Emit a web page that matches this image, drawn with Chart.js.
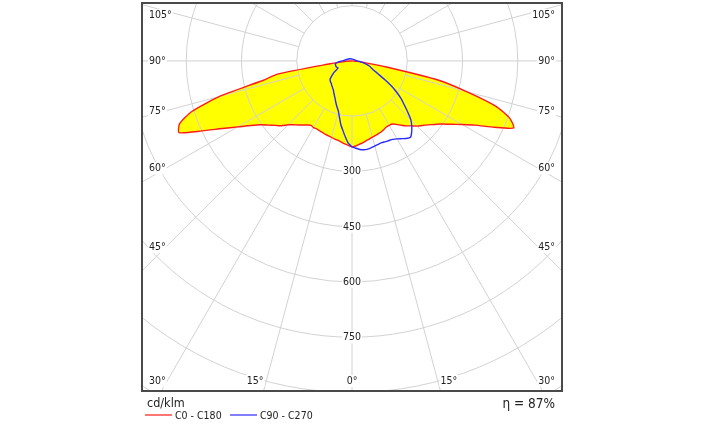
<!DOCTYPE html>
<html>
<head>
<meta charset="utf-8">
<script src="https://cdn.jsdelivr.net/npm/chart.js@4.4.0/dist/chart.umd.min.js"></script>
<style>
  html, body { margin: 0; padding: 0; background: #fff; }
</style>
</head>
<body>
<canvas id="ldc" width="704" height="426"></canvas>
<script>
// gamma angles (0 = straight down), intensities in cd/klm
const gammaAngles = [0, 2.5, 5, 7.5, 10, 12.5, 15, 17.5, 20, 22.5, 25, 27.5, 30, 32.5, 35, 37.5, 40, 42.5, 45,
    47.5, 50, 52.5, 55, 57.5, 60, 62.5, 65, 67.5, 70, 72.5, 75, 77.5, 80, 82.5, 85, 87.5, 90, 105, 135, 180];
const c0Values = [234, 231, 227, 224, 220, 217, 214, 212, 210, 208, 205, 202, 202, 203, 210, 220, 230, 239, 250,
    259, 270, 283, 298, 320, 345, 377, 426, 475, 456, 410, 322, 239, 95, 33, 14, 5, 0, 0, 0, 0];
const c180Values = [234, 229, 226, 222, 219, 217, 215, 213, 212, 210, 209, 208, 209, 207, 212, 219, 227, 235, 245,
    260, 272, 286, 302, 326, 358, 397, 449, 508, 498, 456, 372, 252, 203, 60, 22, 8, 0, 0, 0, 0];
const c90Values = [233, 237, 241, 243, 243, 241, 239, 237, 236, 237, 238, 240, 244, 250, 257, 261, 252, 240, 226,
    205, 185, 168, 148, 127, 105, 85, 72, 62, 56, 51, 45, 38, 32, 26, 22, 18, 14, 9, 6, 5];
const c270Values = [233, 224, 207, 190, 175, 157, 142, 133, 125, 117, 110, 104, 99, 94, 91, 88, 86, 83, 82,
    80, 78, 71, 64, 58, 49, 43, 43, 45, 46, 46, 46, 46, 46, 43, 38, 33, 27, 15, 8, 5];

const circleValues = [150, 300, 450, 600, 750, 900, 1050];
const circleTicks = [300, 450, 600, 750];
const sideAngleTicks = [45, 60, 75, 90, 105];
const bottomAngleTicks = [0, 15, 30];
const seriesNames = ['C0 - C180', 'C90 - C270'];
const unitLabel = 'cd/klm';
const efficiencyLabel = 'η = 87%';

const FONT = "'DejaVu Sans Condensed', 'DejaVu Sans', sans-serif";
const TEXT = '#222';

// left half mirrored, right half; closed loop through gamma = 0
function toCurve(leftVals, rightVals) {
    const rad = Math.PI / 180;
    const pts = [];
    for (let i = 0; i < gammaAngles.length; i++) {
        const g = gammaAngles[i] * rad;
        pts.push({ x: -leftVals[i] * Math.sin(g), y: -leftVals[i] * Math.cos(g) });
    }
    for (let i = gammaAngles.length - 1; i >= 0; i--) {
        const g = gammaAngles[i] * rad;
        pts.push({ x: rightVals[i] * Math.sin(g), y: -rightVals[i] * Math.cos(g) });
    }
    return pts;
}

const redCurve = toCurve(c180Values, c0Values);
const blueCurve = toCurve(c270Values, c90Values);

function labelBox(ctx, text, x, y, align) {
    const w = ctx.measureText(text).width;
    let left = x;
    if (align === 'center') left = x - w / 2;
    if (align === 'right') left = x - w;
    ctx.fillStyle = '#fff';
    ctx.fillRect(left - 1, y - 6, w + 2, 12);
    ctx.fillStyle = TEXT;
    ctx.textAlign = 'left';
    ctx.fillText(text, left, y);
}

const polarGrid = {
    id: 'polarGrid',
    // grid goes above the yellow fill but under the curves
    afterDatasetDraw(chart, args) {
        if (args.index !== 0) return;
        const { ctx, chartArea: a, scales: { x, y } } = chart;
        const cx = x.getPixelForValue(0), cy = y.getPixelForValue(0);
        const k = x.getPixelForValue(1) - cx;
        ctx.save();
        ctx.beginPath();
        ctx.rect(a.left, a.top, a.right - a.left, a.bottom - a.top);
        ctx.clip();
        ctx.strokeStyle = '#d2d2d2';
        ctx.lineWidth = 1;
        circleValues.forEach(v => {
            ctx.beginPath();
            ctx.arc(cx, cy, v * k, 0, Math.PI * 2);
            ctx.stroke();
        });
        const rIn = circleValues[0] * k, rOut = 1300 * k;
        for (let g = 0; g < 360; g += 15) {
            const t = g * Math.PI / 180;
            ctx.beginPath();
            ctx.moveTo(cx + rIn * Math.sin(t), cy + rIn * Math.cos(t));
            ctx.lineTo(cx + rOut * Math.sin(t), cy + rOut * Math.cos(t));
            ctx.stroke();
        }
        ctx.restore();
    },
    afterDraw(chart) {
        const { ctx, chartArea: a, scales: { x, y } } = chart;
        const cx = x.getPixelForValue(0), cy = y.getPixelForValue(0);
        ctx.save();
        ctx.font = '10.5px ' + FONT;
        ctx.textBaseline = 'middle';

        circleTicks.forEach(v => {
            labelBox(ctx, String(v), cx, y.getPixelForValue(-v), 'center');
        });

        // side angle labels: inner edge sits on the ray
        sideAngleTicks.forEach(g => {
            const t = g * Math.PI / 180;
            const txt = g + '°';
            const w = ctx.measureText(txt).width;
            const xl = a.left + 7 + w;
            let yy = cy + (cx - xl) * Math.cos(t) / Math.sin(t);
            yy = Math.max(yy, a.top + 12);
            labelBox(ctx, txt, a.left + 7, yy, 'left');
            labelBox(ctx, txt, a.right - 7, yy, 'right');
        });

        // bottom angle labels
        const yb = a.bottom - 10;
        bottomAngleTicks.forEach(g => {
            const txt = g + '°';
            if (g === 0) {
                labelBox(ctx, txt, cx, yb, 'center');
                return;
            }
            const w = ctx.measureText(txt).width;
            const dx = (a.bottom - cy) * Math.tan(g * Math.PI / 180);
            const xl = Math.max(cx - dx, a.left + 7 + w);
            const xr = Math.min(cx + dx, a.right - 7 - w);
            labelBox(ctx, txt, xl, yb, 'right');
            labelBox(ctx, txt, xr, yb, 'left');
        });

        // frame
        ctx.strokeStyle = '#4a4a4a';
        ctx.lineWidth = 2;
        ctx.strokeRect(a.left, a.top, a.right - a.left, a.bottom - a.top);

        // unit, legend, efficiency
        ctx.fillStyle = TEXT;
        ctx.textAlign = 'left';
        ctx.font = '12.5px ' + FONT;
        ctx.fillText(unitLabel, a.left + 5, a.bottom + 13);
        ctx.textAlign = 'right';
        ctx.font = '13.5px ' + FONT;
        ctx.fillText(efficiencyLabel, a.right - 7, a.bottom + 13);

        ctx.font = '10.5px ' + FONT;
        ctx.textAlign = 'left';
        const ly = a.bottom + 24;
        const items = [
            { name: seriesNames[0], color: chart.data.datasets[1].borderColor, x0: a.left + 3 },
            { name: seriesNames[1], color: chart.data.datasets[2].borderColor, x0: a.left + 88 }
        ];
        items.forEach(it => {
            ctx.strokeStyle = it.color;
            ctx.lineWidth = 1.2;
            ctx.beginPath();
            ctx.moveTo(it.x0, ly);
            ctx.lineTo(it.x0 + 27, ly);
            ctx.stroke();
            ctx.fillStyle = TEXT;
            ctx.fillText(it.name, it.x0 + 30, ly + 1);
        });
        ctx.restore();
    }
};

new Chart(document.getElementById('ldc'), {
    type: 'line',
    data: {
        datasets: [
            {
                label: 'fill',
                data: redCurve,
                backgroundColor: '#ffff00',
                borderColor: 'rgba(0,0,0,0)',
                borderWidth: 0,
                fill: 'shape',
                order: 3
            },
            {
                label: seriesNames[0],
                data: redCurve,
                borderColor: '#ff1a1a',
                borderWidth: 1.4,
                fill: false,
                order: 2
            },
            {
                label: seriesNames[1],
                data: blueCurve,
                borderColor: '#2a2aff',
                borderWidth: 1.4,
                fill: false,
                order: 1
            }
        ]
    },
    options: {
        responsive: false,
        animation: false,
        devicePixelRatio: 1,
        layout: { padding: { left: 142, right: 142, top: 3, bottom: 35 } },
        elements: { point: { radius: 0 }, line: { tension: 0.2, capBezierPoints: false } },
        plugins: { legend: { display: false }, tooltip: { enabled: false } },
        scales: {
            x: { type: 'linear', min: -570, max: 570, display: false },
            y: { type: 'linear', min: -895, max: 157, display: false }
        }
    },
    plugins: [polarGrid]
});
</script>
</body>
</html>
